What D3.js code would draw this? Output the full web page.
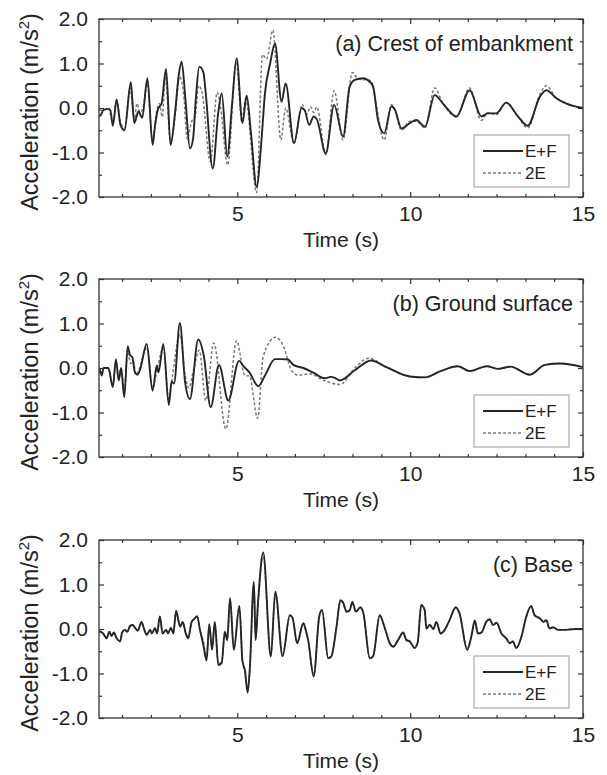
<!DOCTYPE html>
<html><head><meta charset="utf-8">
<script src="https://cdn.jsdelivr.net/npm/d3@7"></script>
<style>
body{margin:0;background:#fff;}
svg{display:block;font-family:"Liberation Sans",Arial,sans-serif;}
</style></head><body>
<svg id="chart" width="607" height="775"></svg>
<script>
// ---------- data ----------
const timeTicks = [5, 10, 15];
const accTicks = [-2, -1, 0, 1, 2];
const accTickLabels = ["-2.0", "-1.0", "0.0", "1.0", "2.0"];
const seriesNames = ["E+F", "2E"];
const panelTitles = ["(a) Crest of embankment", "(b) Ground surface", "(c) Base"];
const xTitle = "Time (s)";

// (a) Crest of embankment
const crestTimeEF = [1.0,1.05,1.13,1.27,1.33,1.40,1.51,1.62,1.74,1.92,2.02,2.14,2.25,2.40,2.55,2.62,2.71,2.81,2.94,3.07,3.20,3.30,3.39,3.50,3.63,3.72,3.80,3.90,4.02,4.08,4.29,4.45,4.55,4.71,4.85,4.98,5.15,5.27,5.40,5.56,5.70,5.80,5.95,6.09,6.28,6.40,6.64,6.86,6.95,7.08,7.21,7.30,7.56,7.80,8.06,8.25,8.40,8.64,8.83,8.93,9.07,9.25,9.46,9.56,9.75,9.99,10.18,10.43,10.71,10.95,11.34,11.72,12.06,12.25,12.49,12.78,13.12,13.40,13.75,13.94,14.23,14.52,14.80,15.0];
const crestAccEF = [-0.18,-0.16,-0.04,-0.02,-0.05,-0.40,0.19,-0.38,-0.50,0.58,-0.34,-0.08,-0.22,0.67,-0.83,-0.40,-0.02,0.10,0.88,-0.83,-0.10,0.70,1.04,0.20,-0.91,-0.70,0.20,0.93,0.80,0.40,-1.36,-0.10,0.33,-1.09,0.10,1.12,-0.34,0.28,-0.60,-1.77,-0.72,0.33,1.00,1.45,0.14,0.55,-0.79,0.00,-0.05,-0.38,-0.19,-0.25,-1.02,0.07,-0.64,0.48,0.63,0.67,0.59,0.48,-0.27,-0.57,0.04,-0.04,-0.46,-0.34,-0.27,-0.42,0.29,0.10,-0.19,0.40,-0.19,-0.12,-0.12,0.12,-0.19,-0.40,0.25,0.40,0.22,0.10,0.03,0.00];
const crestTime2E = [1.0,1.13,1.27,1.40,1.51,1.62,1.74,1.90,2.02,2.10,2.18,2.27,2.40,2.55,2.66,2.75,2.83,2.92,3.07,3.20,3.33,3.45,3.55,3.68,3.78,3.88,3.98,4.22,4.42,4.52,4.72,4.97,5.13,5.24,5.56,5.73,5.85,6.03,6.26,6.40,6.64,6.88,7.00,7.12,7.21,7.30,7.56,7.80,8.06,8.33,8.50,8.85,9.25,9.46,9.56,9.75,9.99,10.18,10.43,10.71,10.95,11.34,11.72,12.06,12.25,12.49,12.78,13.12,13.40,13.75,13.94,14.23,14.52,14.80,15.0];
const crestAcc2E = [-0.05,-0.05,0.00,-0.33,0.15,-0.30,-0.45,0.45,-0.25,0.10,-0.10,0.00,0.55,-0.75,-0.10,0.10,-0.20,0.70,-0.80,-0.20,0.70,0.30,-0.70,-0.30,-0.20,0.50,0.35,-1.20,0.35,0.00,-1.28,1.05,-0.30,0.20,-1.90,1.20,1.10,1.75,-0.72,0.00,-0.80,0.08,-0.15,0.03,-0.10,0.02,-1.05,0.39,-0.72,0.80,0.65,0.62,-0.72,0.08,-0.04,-0.50,-0.30,-0.30,-0.45,0.45,0.10,-0.20,0.45,-0.28,-0.10,-0.15,0.12,-0.20,-0.45,0.30,0.50,0.22,0.10,0.03,0.00];

// (b) Ground surface
const groundTimeEF = [1.0,1.03,1.08,1.13,1.27,1.40,1.49,1.57,1.64,1.73,1.83,1.90,1.96,2.04,2.12,2.20,2.38,2.55,2.67,2.72,2.86,3.02,3.10,3.17,3.34,3.49,3.63,3.87,4.03,4.23,4.47,4.74,5.05,5.17,5.35,5.61,5.80,6.09,6.28,6.47,6.62,6.91,7.19,7.53,7.70,7.82,7.97,8.40,8.87,9.31,9.99,10.43,10.88,11.38,11.72,12.22,12.55,12.90,13.46,13.90,14.35,15.0];
const groundAccEF = [0.00,-0.05,-0.17,0.00,0.00,-0.43,0.20,-0.28,0.00,-0.66,0.49,0.28,0.25,-0.10,-0.15,0.00,0.54,-0.51,0.05,-0.10,0.54,-0.83,-0.30,-0.35,1.01,-0.32,-0.70,0.64,0.28,-0.88,0.07,-0.73,0.16,0.05,-0.10,-0.41,-0.17,0.20,0.20,0.19,0.07,0.00,-0.10,-0.23,-0.20,-0.22,-0.28,-0.05,0.17,0.02,-0.19,-0.21,-0.07,0.04,-0.07,0.04,-0.02,0.03,-0.15,0.07,0.10,0.02];
const groundTime2E = [1.0,1.08,1.13,1.27,1.40,1.49,1.57,1.64,1.73,1.83,1.92,2.00,2.06,2.15,2.38,2.55,2.70,2.86,3.02,3.12,3.34,3.49,3.60,3.72,3.90,4.09,4.32,4.67,4.98,5.22,5.35,5.59,5.75,6.11,6.33,6.57,6.76,7.10,7.50,7.97,8.40,8.80,9.31,9.99,10.43,10.88,11.38,11.72,12.22,12.55,12.90,13.46,13.90,14.35,15.0];
const groundAcc2E = [-0.05,-0.15,0.00,0.00,-0.40,0.15,-0.25,0.00,-0.55,0.35,0.10,0.15,-0.15,-0.05,0.45,-0.45,0.05,0.45,-0.70,-0.20,0.75,-0.15,-0.45,-0.10,0.40,-0.73,0.56,-1.37,0.61,-0.17,-0.18,-1.13,0.26,0.69,0.50,-0.06,-0.16,-0.13,-0.28,-0.37,0.00,0.22,0.02,-0.19,-0.21,-0.07,0.04,-0.07,0.04,-0.02,0.03,-0.15,0.07,0.10,0.02];

// (c) Base
const baseTimeEF = [1.0,1.03,1.12,1.22,1.30,1.36,1.43,1.51,1.61,1.67,1.75,1.82,1.90,1.97,2.05,2.12,2.23,2.30,2.38,2.48,2.53,2.62,2.68,2.76,2.84,2.94,3.00,3.08,3.15,3.23,3.30,3.35,3.42,3.51,3.58,3.68,3.75,3.84,3.92,4.02,4.11,4.19,4.27,4.35,4.45,4.55,4.64,4.71,4.79,4.90,5.06,5.15,5.22,5.30,5.36,5.48,5.53,5.60,5.75,5.97,6.10,6.31,6.52,6.60,6.73,6.91,6.98,7.05,7.21,7.37,7.45,7.63,7.72,7.87,7.98,8.06,8.16,8.25,8.33,8.43,8.56,8.65,8.83,8.93,9.12,9.27,9.41,9.51,9.65,9.80,9.89,9.99,10.13,10.22,10.32,10.42,10.47,10.57,10.67,10.76,10.88,11.00,11.14,11.32,11.43,11.65,11.77,11.87,11.96,12.06,12.20,12.30,12.40,12.50,12.64,12.78,12.88,12.97,13.07,13.22,13.36,13.50,13.60,13.75,13.86,13.94,14.03,14.13,14.28,14.45,14.62,14.80,15.0];
const baseAccEF = [-0.05,-0.06,-0.10,-0.21,-0.06,-0.16,-0.08,-0.21,-0.28,-0.08,-0.02,-0.06,0.07,0.09,0.02,-0.04,0.16,0.01,-0.13,-0.02,-0.10,0.02,-0.10,0.28,-0.10,-0.02,-0.10,0.03,-0.10,0.41,0.18,0.05,0.16,-0.10,-0.21,0.16,0.22,0.29,-0.02,-0.36,-0.71,0.11,-0.47,0.16,-0.81,-0.76,-0.06,-0.25,0.70,-0.47,0.52,-0.73,-0.92,-1.43,-0.92,1.06,-0.25,0.60,1.72,-0.62,0.84,-0.61,0.31,0.25,-0.32,0.13,-0.02,-0.25,-1.07,0.28,0.43,-0.66,-0.62,0.05,0.65,0.60,0.39,0.42,0.61,0.39,0.49,0.35,-0.66,-0.61,0.31,0.01,-0.32,-0.40,-0.25,-0.08,-0.25,-0.28,-0.43,-0.30,0.54,0.43,0.01,0.09,0.00,0.16,-0.10,-0.02,0.20,0.49,0.35,-0.47,-0.17,0.19,-0.10,-0.08,0.16,0.22,0.09,0.14,-0.10,-0.21,-0.32,-0.28,-0.43,-0.17,0.28,0.52,0.31,0.24,0.16,0.20,0.01,0.04,-0.02,-0.02,-0.01,0.00,0.00];
const baseTime2E = [1.0,1.03,1.12,1.22,1.30,1.36,1.43,1.51,1.61,1.67,1.75,1.82,1.90,1.97,2.05,2.12,2.23,2.30,2.38,2.48,2.53,2.62,2.68,2.76,2.84,2.94,3.00,3.08,3.15,3.23,3.30,3.35,3.42,3.51,3.58,3.68,3.75,3.84,3.92,4.02,4.11,4.19,4.27,4.35,4.45,4.55,4.64,4.71,4.79,4.90,5.06,5.15,5.22,5.30,5.36,5.48,5.53,5.60,5.75,5.97,6.10,6.31,6.52,6.60,6.73,6.91,6.98,7.05,7.21,7.37,7.45,7.63,7.72,7.87,7.98,8.06,8.16,8.25,8.33,8.43,8.56,8.65,8.83,8.93,9.12,9.27,9.41,9.51,9.65,9.80,9.89,9.99,10.13,10.22,10.32,10.42,10.47,10.57,10.67,10.76,10.88,11.00,11.14,11.32,11.43,11.65,11.77,11.87,11.96,12.06,12.20,12.30,12.40,12.50,12.64,12.78,12.88,12.97,13.07,13.22,13.36,13.50,13.60,13.75,13.86,13.94,14.03,14.13,14.28,14.45,14.62,14.80,15.0];
const baseAcc2E = [-0.05,-0.06,-0.10,-0.20,-0.06,-0.15,-0.08,-0.20,-0.27,-0.08,-0.02,-0.06,0.07,0.09,0.02,-0.04,0.15,0.01,-0.12,-0.02,-0.10,0.02,-0.10,0.27,-0.10,-0.02,-0.10,0.03,-0.10,0.40,0.18,0.05,0.15,-0.10,-0.20,0.15,0.22,0.28,-0.02,-0.28,-0.66,0.10,-0.45,0.15,-0.78,-0.74,-0.06,-0.25,0.66,-0.45,0.50,-0.70,-0.98,-1.35,-0.95,1.00,-0.22,0.58,1.62,-0.60,0.80,-0.60,0.30,0.25,-0.30,0.13,-0.02,-0.25,-1.03,0.26,0.41,-0.64,-0.60,0.05,0.62,0.58,0.38,0.41,0.59,0.38,0.48,0.34,-0.64,-0.60,0.30,0.01,-0.31,-0.39,-0.24,-0.08,-0.24,-0.27,-0.42,-0.29,0.52,0.42,0.01,0.09,0.00,0.16,-0.10,-0.02,0.19,0.47,0.34,-0.45,-0.17,0.18,-0.10,-0.08,0.16,0.21,0.09,0.14,-0.10,-0.21,-0.31,-0.27,-0.42,-0.17,0.27,0.50,0.30,0.23,0.16,0.19,0.01,0.04,-0.02,-0.02,-0.01,0.00,0.00];

// ---------- layout ----------
const svg = d3.select("#chart");
const plotLeft = 99, plotRight = 583, plotH = 178;
const panelTops = [19, 279, 540];
const x = d3.scaleLinear().domain([1, 15]).range([plotLeft, plotRight]);
const minorX = d3.range(2, 19).map(k => k * 5 / 6).filter(v => v > 1.01 && v < 14.99 && Math.abs(v / 5 - Math.round(v / 5)) > 1e-6);
const minorY = [-1.5, -0.5, 0.5, 1.5];
const textColor = "#222";
const frameColor = "#333";

const panels = [
  {title: panelTitles[0], ef: [crestTimeEF, crestAccEF], e2: [crestTime2E, crestAcc2E]},
  {title: panelTitles[1], ef: [groundTimeEF, groundAccEF], e2: [groundTime2E, groundAcc2E]},
  {title: panelTitles[2], ef: [baseTimeEF, baseAccEF], e2: [baseTime2E, baseAcc2E]}
];

panels.forEach((p, i) => {
  const top = panelTops[i], bottom = top + plotH;
  const y = d3.scaleLinear().domain([-2, 2]).range([bottom, top]);
  const g = svg.append("g");

  const cid = "clip" + i;
  svg.append("clipPath").attr("id", cid).append("rect")
    .attr("x", plotLeft).attr("y", top).attr("width", plotRight - plotLeft).attr("height", plotH);

  const styleAxis = sel => {
    sel.select(".domain").remove();
    sel.selectAll("line").attr("stroke", frameColor).attr("stroke-width", 1.2);
    sel.selectAll("text").attr("fill", textColor).attr("font-size", 21);
  };
  g.append("g").attr("transform", `translate(0,${bottom})`)
    .call(d3.axisBottom(x).tickValues(timeTicks).tickSize(-5).tickPadding(9).tickFormat(d3.format("d")))
    .call(styleAxis).attr("font-family", null);
  g.append("g").attr("transform", `translate(0,${bottom})`)
    .call(d3.axisBottom(x).tickValues(minorX).tickSize(-3).tickFormat(""))
    .call(styleAxis);
  g.append("g").attr("transform", `translate(0,${top})`)
    .call(d3.axisTop(x).tickValues(timeTicks).tickSize(-5).tickFormat(""))
    .call(styleAxis);
  g.append("g").attr("transform", `translate(0,${top})`)
    .call(d3.axisTop(x).tickValues(minorX).tickSize(-3).tickFormat(""))
    .call(styleAxis);
  g.append("g").attr("transform", `translate(${plotLeft},0)`)
    .call(d3.axisLeft(y).tickValues(accTicks).tickSize(-5).tickPadding(11).tickFormat((d, k) => accTickLabels[k]))
    .call(styleAxis).attr("font-family", null);
  g.append("g").attr("transform", `translate(${plotLeft},0)`)
    .call(d3.axisLeft(y).tickValues(minorY).tickSize(-3).tickFormat(""))
    .call(styleAxis);
  g.append("g").attr("transform", `translate(${plotRight},0)`)
    .call(d3.axisRight(y).tickValues(accTicks).tickSize(-5).tickFormat(""))
    .call(styleAxis);
  g.append("g").attr("transform", `translate(${plotRight},0)`)
    .call(d3.axisRight(y).tickValues(minorY).tickSize(-3).tickFormat(""))
    .call(styleAxis);

  const line = d3.line().x(d => x(d[0])).y(d => y(d[1])).curve(d3.curveMonotoneX);
  const lg = g.append("g").attr("clip-path", `url(#${cid})`);
  lg.append("path").datum(d3.zip(p.e2[0], p.e2[1])).attr("d", line)
    .attr("fill", "none").attr("stroke", "#7a7a7a").attr("stroke-width", 1.5).attr("stroke-dasharray", "3,2");
  lg.append("path").datum(d3.zip(p.ef[0], p.ef[1])).attr("d", line)
    .attr("fill", "none").attr("stroke", "#262626").attr("stroke-width", 1.9).attr("stroke-linejoin", "round");

  g.append("rect").attr("x", plotLeft).attr("y", top).attr("width", plotRight - plotLeft).attr("height", plotH)
    .attr("fill", "none").attr("stroke", frameColor).attr("stroke-width", 1.3);

  g.append("text").attr("x", 573).attr("y", top + 32).attr("text-anchor", "end")
    .attr("font-size", 21.5).attr("fill", textColor).text(p.title);

  g.append("text").attr("x", (plotLeft + plotRight) / 2).attr("y", bottom + 50).attr("text-anchor", "middle")
    .attr("font-size", 21).attr("fill", textColor).text(xTitle);

  const yt = g.append("text").attr("transform", `translate(38,${top + plotH / 2 + 4}) rotate(-90)`)
    .attr("text-anchor", "middle").attr("font-size", 23.5).attr("fill", textColor);
  yt.append("tspan").text("Acceleration (m/s");
  yt.append("tspan").attr("font-size", 15).attr("dy", -9).text("2");
  yt.append("tspan").attr("dy", 9).text(")");

  const lgX = 474, lgY = top + 116;
  const leg = g.append("g");
  leg.append("rect").attr("x", lgX).attr("y", lgY).attr("width", 95).attr("height", 52)
    .attr("fill", "#fff").attr("stroke", "#999").attr("stroke-width", 1);
  leg.append("line").attr("x1", lgX + 9).attr("x2", lgX + 49).attr("y1", lgY + 16).attr("y2", lgY + 16)
    .attr("stroke", "#262626").attr("stroke-width", 1.9);
  leg.append("text").attr("x", lgX + 51).attr("y", lgY + 22).attr("font-size", 17).attr("fill", textColor).text(seriesNames[0]);
  leg.append("line").attr("x1", lgX + 9).attr("x2", lgX + 49).attr("y1", lgY + 38).attr("y2", lgY + 38)
    .attr("stroke", "#7a7a7a").attr("stroke-width", 1.5).attr("stroke-dasharray", "3,2");
  leg.append("text").attr("x", lgX + 51).attr("y", lgY + 44).attr("font-size", 17).attr("fill", textColor).text(seriesNames[1]);
});
</script>
</body></html>
